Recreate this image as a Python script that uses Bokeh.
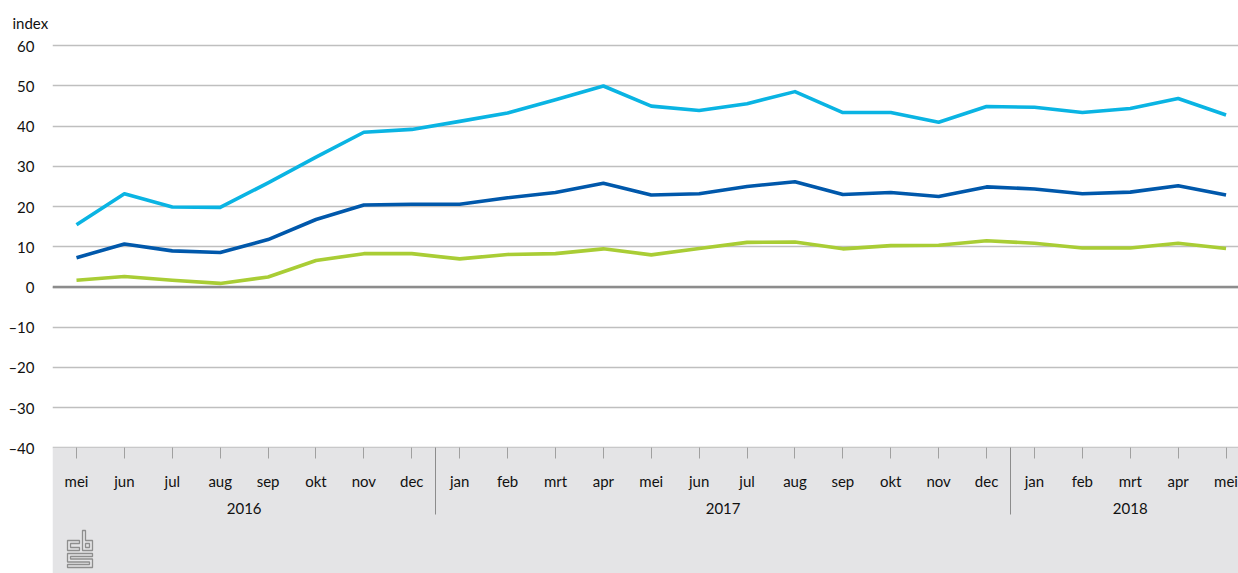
from bokeh.plotting import figure
from bokeh.models import (Range1d, FixedTicker, LinearAxis, BoxAnnotation, Span)
from bokeh.embed import file_html
from bokeh.resources import INLINE

# ---- data ----
months = ["mei", "jun", "jul", "aug", "sep", "okt", "nov", "dec",
          "jan", "feb", "mrt", "apr", "mei", "jun", "jul", "aug", "sep", "okt", "nov", "dec",
          "jan", "feb", "mrt", "apr", "mei"]
years = [2016] * 8 + [2017] * 12 + [2018] * 5

series_light = [15.5, 23.2, 19.9, 19.8, 25.9, 32.3, 38.5, 39.2,
                41.2, 43.3, 46.6, 50.0, 45.0, 43.9, 45.6, 48.6, 43.4, 43.4, 41.0, 44.9,
                44.7, 43.4, 44.4, 46.9, 42.8]
series_dark = [7.3, 10.7, 9.0, 8.6, 11.8, 16.8, 20.4, 20.6,
               20.6, 22.2, 23.5, 25.8, 22.9, 23.2, 25.0, 26.2, 23.0, 23.5, 22.5, 24.9,
               24.4, 23.2, 23.6, 25.2, 22.9]
series_green = [1.7, 2.6, 1.7, 0.9, 2.5, 6.6, 8.3, 8.3,
                7.0, 8.1, 8.3, 9.5, 8.0, 9.6, 11.1, 11.2, 9.5, 10.3, 10.4, 11.5,
                10.9, 9.7, 9.7, 10.9, 9.6]

y_ticks = [-40, -30, -20, -10, 0, 10, 20, 30, 40, 50, 60]

FONT = "Lato"
FS = "15px"
TXT = "#111111"

W, H = 1238, 573
ML, MT = 52, 35
X0, X1 = -0.501, 24.26
Y0, Y1 = -71.25, 62.56

idx = list(range(len(months)))

p = figure(width=W, height=H, output_backend="svg", toolbar_location=None,
           x_range=Range1d(X0, X1), y_range=Range1d(Y0, Y1),
           min_border_left=ML, min_border_right=0, min_border_top=MT, min_border_bottom=0,
           x_axis_location=None, y_axis_location="left", title="index")
p.outline_line_color = None
p.background_fill_color = "white"
p.border_fill_color = "white"

# title "index"
p.title.text_font = FONT
p.title.text_font_size = FS
p.title.text_font_style = "normal"
p.title.text_color = TXT
p.title.align = "left"
p.title.offset = -40
p.title.standoff = 8

# gray band beneath the plot
band = BoxAnnotation(top=y_ticks[0], fill_color="#E4E4E6", fill_alpha=1.0,
                     line_color=None, level="underlay")
p.add_layout(band)

# y axis
yax = p.yaxis[0]
yax.ticker = FixedTicker(ticks=y_ticks)
yax.major_label_overrides = {t: (f"\u2013{abs(t)}" if t < 0 else str(t)) for t in y_ticks}
yax.axis_line_color = None
yax.major_tick_line_color = None
yax.minor_tick_line_color = None
yax.major_label_standoff = 12
yax.major_label_text_font = FONT
yax.major_label_text_font_size = FS
yax.major_label_text_color = TXT

p.xgrid.visible = False
p.ygrid.ticker = FixedTicker(ticks=y_ticks)
p.ygrid.grid_line_color = "#BFBFBF"
p.ygrid.grid_line_width = 1.6

zero = Span(location=0, dimension="width", line_color="#8C8C8C", line_width=2.6)
p.add_layout(zero)

# month axis
mon_ax = LinearAxis(ticker=FixedTicker(ticks=idx),
                    major_label_overrides={i: m for i, m in enumerate(months)},
                    fixed_location=y_ticks[0])
mon_ax.axis_line_color = None
mon_ax.major_tick_out = 11
mon_ax.major_tick_in = 0
mon_ax.major_tick_line_color = "#A0A0A0"
mon_ax.major_tick_line_width = 1
mon_ax.minor_tick_line_color = None
mon_ax.major_label_standoff = 13
mon_ax.major_label_text_font = FONT
mon_ax.major_label_text_font_size = FS
mon_ax.major_label_text_color = TXT
p.add_layout(mon_ax, "below")

# year axis
uniq_years = sorted(set(years))
year_centers = []
for yv in uniq_years:
    ii = [i for i, v in enumerate(years) if v == yv]
    year_centers.append((ii[0] + ii[-1]) / 2)
year_ax = LinearAxis(ticker=FixedTicker(ticks=year_centers),
                     major_label_overrides={c: str(yv) for c, yv in zip(year_centers, uniq_years)},
                     fixed_location=y_ticks[0])
year_ax.axis_line_color = None
year_ax.major_tick_line_color = None
year_ax.minor_tick_line_color = None
year_ax.major_label_standoff = 49
year_ax.major_label_text_font = FONT
year_ax.major_label_text_font_size = FS
year_ax.major_label_text_color = TXT
p.add_layout(year_ax, "below")

# year separators
seps = [i - 0.5 for i in range(1, len(years)) if years[i] != years[i - 1]]
sep_ax = LinearAxis(ticker=FixedTicker(ticks=seps),
                    major_label_overrides={s: "" for s in seps},
                    fixed_location=y_ticks[0])
sep_ax.axis_line_color = None
sep_ax.major_tick_out = 67
sep_ax.major_tick_in = 0
sep_ax.major_tick_line_color = "#8C8C8C"
sep_ax.major_tick_line_width = 1
sep_ax.minor_tick_line_color = None
sep_ax.major_label_text_font_size = "0px"
p.add_layout(sep_ax, "below")

# lines
for ys, col in [(series_light, "#0AB4E3"), (series_dark, "#0058AB"), (series_green, "#A9CD35")]:
    p.line(idx, ys, line_color=col, line_width=3.6, line_join="round")

# CBS logo (decoration), outlined shapes in pixel offsets from the frame's corner
def px_to_data(pts):
    fw, fh = W - ML, H - MT
    xs = [X0 + (x - ML) * (X1 - X0) / fw for x, _ in pts]
    ys = [Y1 - (y - MT) * (Y1 - Y0) / fh for _, y in pts]
    return xs, ys

logo_shapes = [
    [(79, 540), (67, 540), (67, 550), (79, 550), (79, 547), (70, 547), (70, 543), (79, 543)],
    [(82, 530), (85, 530), (85, 540), (92, 540), (92, 550), (82, 550)],
    [(85, 543), (89, 543), (89, 547), (85, 547)],
    [(67, 553), (92, 553), (92, 556), (70, 556), (70, 558.5), (92, 558.5), (92, 567),
     (67, 567), (67, 564), (89, 564), (89, 561.5), (67, 561.5)],
]
lx, ly = [], []
for s in logo_shapes:
    a, b = px_to_data(s)
    lx.append(a)
    ly.append(b)
p.patches(lx, ly, fill_color=None, line_color="#8E8E8E", line_width=1.3)

open("out.html", "w").write(file_html(p, INLINE))
